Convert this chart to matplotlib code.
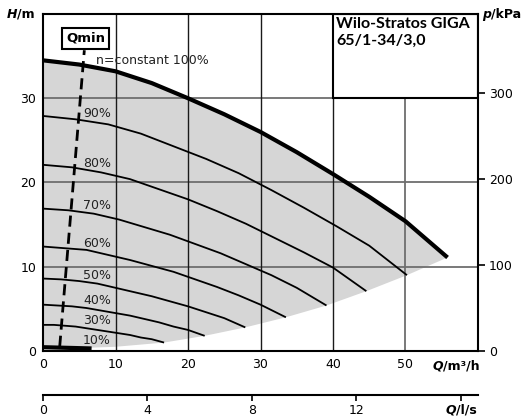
import matplotlib
matplotlib.use('Agg')
import matplotlib.pyplot as plt
from matplotlib.patches import Rectangle, Polygon

# pump curves (Q in m3/h, H in m)
q100 = [0, 5, 10, 15, 20, 25, 30, 35, 40, 45, 50, 55.8]
h100 = [34.5, 34.0, 33.2, 31.8, 30.0, 28.1, 26.0, 23.6, 21.0, 18.3, 15.4, 11.1]

q90 = [0, 4.5, 9, 13.5, 18, 22.5, 27, 31.5, 36, 40.5, 45, 50.2]
h90 = [27.9, 27.5, 26.9, 25.8, 24.3, 22.8, 21.1, 19.1, 17.0, 14.8, 12.5, 9.0]
q80 = [0, 4, 8, 12, 16, 20, 24, 28, 32, 36, 40, 44.6]
h80 = [22.1, 21.8, 21.2, 20.4, 19.2, 18.0, 16.6, 15.1, 13.4, 11.7, 9.9, 7.1]
q70 = [0, 3.5, 7, 10.5, 14, 17.5, 21, 24.5, 28, 31.5, 35, 39.1]
h70 = [16.9, 16.7, 16.3, 15.6, 14.7, 13.8, 12.7, 11.6, 10.3, 9.0, 7.5, 5.4]
q60 = [0, 3, 6, 9, 12, 15, 18, 21, 24, 27, 30, 33.5]
h60 = [12.4, 12.2, 12.0, 11.4, 10.8, 10.1, 9.4, 8.5, 7.6, 6.6, 5.5, 4.0]
q50 = [0, 2.5, 5, 7.5, 10, 12.5, 15, 17.5, 20, 22.5, 25, 27.9]
h50 = [8.6, 8.5, 8.3, 8.0, 7.5, 7.0, 6.5, 5.9, 5.3, 4.6, 3.9, 2.8]
q40 = [0, 2, 4, 6, 8, 10, 12, 14, 16, 18, 20, 22.3]
h40 = [5.5, 5.4, 5.3, 5.1, 4.8, 4.5, 4.2, 3.8, 3.4, 2.9, 2.5, 1.8]
q30 = [0, 1.5, 3, 4.5, 6, 7.5, 9, 10.5, 12, 13.5, 15, 16.7]
h30 = [3.1, 3.1, 3.0, 2.9, 2.7, 2.5, 2.3, 2.1, 1.9, 1.6, 1.4, 1.0]
q10 = [0, 6.7]
h10 = [0.45, 0.3]

# lower edge of the operating field (from end of 100% curve back to origin)
q_edge = [55.8, 50.2, 44.6, 39.1, 33.5, 27.9, 22.3, 16.7, 10, 5, 0]
h_edge = [11.1, 9.0, 7.1, 5.4, 4.0, 2.8, 1.8, 1.0, 0.5, 0.35, 0.3]

# Qmin line
qmin_q = [2.3, 5.7]
qmin_h = [0.5, 35.7]

labels = ['90%', '80%', '70%', '60%', '50%', '40%', '30%', '10%']
label_h = [28.2, 22.3, 17.3, 12.8, 9.0, 6.0, 3.6, 1.3]

xticks = [0, 10, 20, 30, 40, 50]
yticks = [0, 10, 20, 30]
pticks = [0, 100, 200, 300]
lsticks = [0, 4, 8, 12, 16]
lslabels = ['0', '4', '8', '12', '']

fig = plt.figure(figsize=(5.22, 4.18), dpi=100)
ax = fig.add_axes([0.0824, 0.1603, 0.8333, 0.8062])
ax.set_xlim(0, 60)
ax.set_ylim(0, 40)

# grey field
field = Polygon(list(zip(q100, h100)) + list(zip(q_edge, h_edge)) + [(0, 0.3)],
                closed=True, facecolor='#d6d6d6', edgecolor='none', zorder=1)
ax.add_patch(field)

# grid
for y in [10, 20, 30]:
    ax.axhline(y, color='#6e6e6e', lw=1.3, zorder=2)
for x in [10, 20, 30, 40]:
    ax.axvline(x, color='#1a1a1a', lw=1.0, zorder=2)
ax.axvline(50, color='#6e6e6e', lw=1.3, zorder=2)

# title box
ax.add_patch(Rectangle((40, 30), 20, 10, facecolor='white', edgecolor='black',
                       lw=1.5, zorder=3))
ax.text(40.4, 39.6, 'Wilo-Stratos GIGA\n65/1-34/3,0', fontsize=11.5,
        fontweight='bold', family='Lato', va='top', ha='left',
        linespacing=1.2, zorder=4)

# speed curves
for q, h in [(q90, h90), (q80, h80), (q70, h70), (q60, h60),
             (q50, h50), (q40, h40), (q30, h30)]:
    ax.plot(q, h, color='black', lw=1.3, zorder=5, solid_capstyle='butt',
            solid_joinstyle='round')
ax.plot(q100, h100, color='black', lw=3, zorder=6, solid_capstyle='butt',
        solid_joinstyle='round')
ax.plot(q10, h10, color='black', lw=3, zorder=6, solid_capstyle='butt')

ax.plot(qmin_q, qmin_h, color='black', lw=2, ls=(0, (4, 2.2)), zorder=7)

for lab, hy in zip(labels, label_h):
    ax.text(5.5, hy, lab, fontsize=9, va='center', ha='left', zorder=8,
            color='#222222')
ax.text(7.3, 34.5, 'n=constant 100%', fontsize=9, va='center', ha='left',
        zorder=8, color='#222222')

ax.text(5.92, 37.1, 'Qmin', fontsize=9.5, fontweight='bold', va='center',
        ha='center', zorder=9,
        bbox=dict(boxstyle='square,pad=0.3', facecolor='white',
                  edgecolor='black', lw=1.5))

for s in ax.spines.values():
    s.set_linewidth(1.5)
    s.set_zorder(10)

ax.set_xticks(xticks)
ax.set_yticks(yticks)
ax.tick_params(length=0, labelsize=9, pad=5)

# right pressure axis
axp = ax.twinx()
axp.set_ylim(0, 40 * 9.81)
axp.set_yticks(pticks)
axp.tick_params(axis='y', length=5, width=1.2, labelsize=9, pad=3)
for s in axp.spines.values():
    s.set_visible(False)

# axis titles
t = ax.text(-0.06, 1.0, 'H', transform=ax.transAxes, fontsize=9,
            fontweight='bold', style='italic', ha='right', va='center')
ax.annotate('/m', xy=(1, 0), xycoords=t, fontsize=9, fontweight='bold',
            va='bottom', ha='left')
t2 = ax.text(1.01, 1.0, 'p', transform=ax.transAxes, fontsize=9,
             fontweight='bold', style='italic', ha='left', va='center')
ax.annotate('/kPa', xy=(1, 0), xycoords=t2, fontsize=9, fontweight='bold',
            va='bottom', ha='left')
t3 = ax.text(0.895, -0.045, 'Q', transform=ax.transAxes, fontsize=9,
             fontweight='bold', style='italic', ha='left', va='center')
ax.annotate('/m³/h', xy=(1, 0), xycoords=t3, fontsize=9, fontweight='bold',
            va='bottom', ha='left')

# second flow axis in l/s
axl = fig.add_axes([0.0824, 0.0545, 0.8333, 0.0001])
axl.set_xlim(0, 60 / 3.6)
axl.set_yticks([])
axl.set_xticks(lsticks)
axl.set_xticklabels(lslabels)
axl.tick_params(axis='x', length=4, width=1.2, labelsize=9, pad=2)
for k in ['top', 'left', 'right']:
    axl.spines[k].set_visible(False)
axl.spines['bottom'].set_linewidth(1.5)
t4 = axl.annotate('Q', xy=(0.925, 0), xycoords='axes fraction',
                  xytext=(0, -11), textcoords='offset points', fontsize=9,
                  fontweight='bold', style='italic', ha='left', va='center')
axl.annotate('/l/s', xy=(1, 0), xycoords=t4, fontsize=9, fontweight='bold',
             va='bottom', ha='left')

fig.savefig('out.png', dpi=100)
